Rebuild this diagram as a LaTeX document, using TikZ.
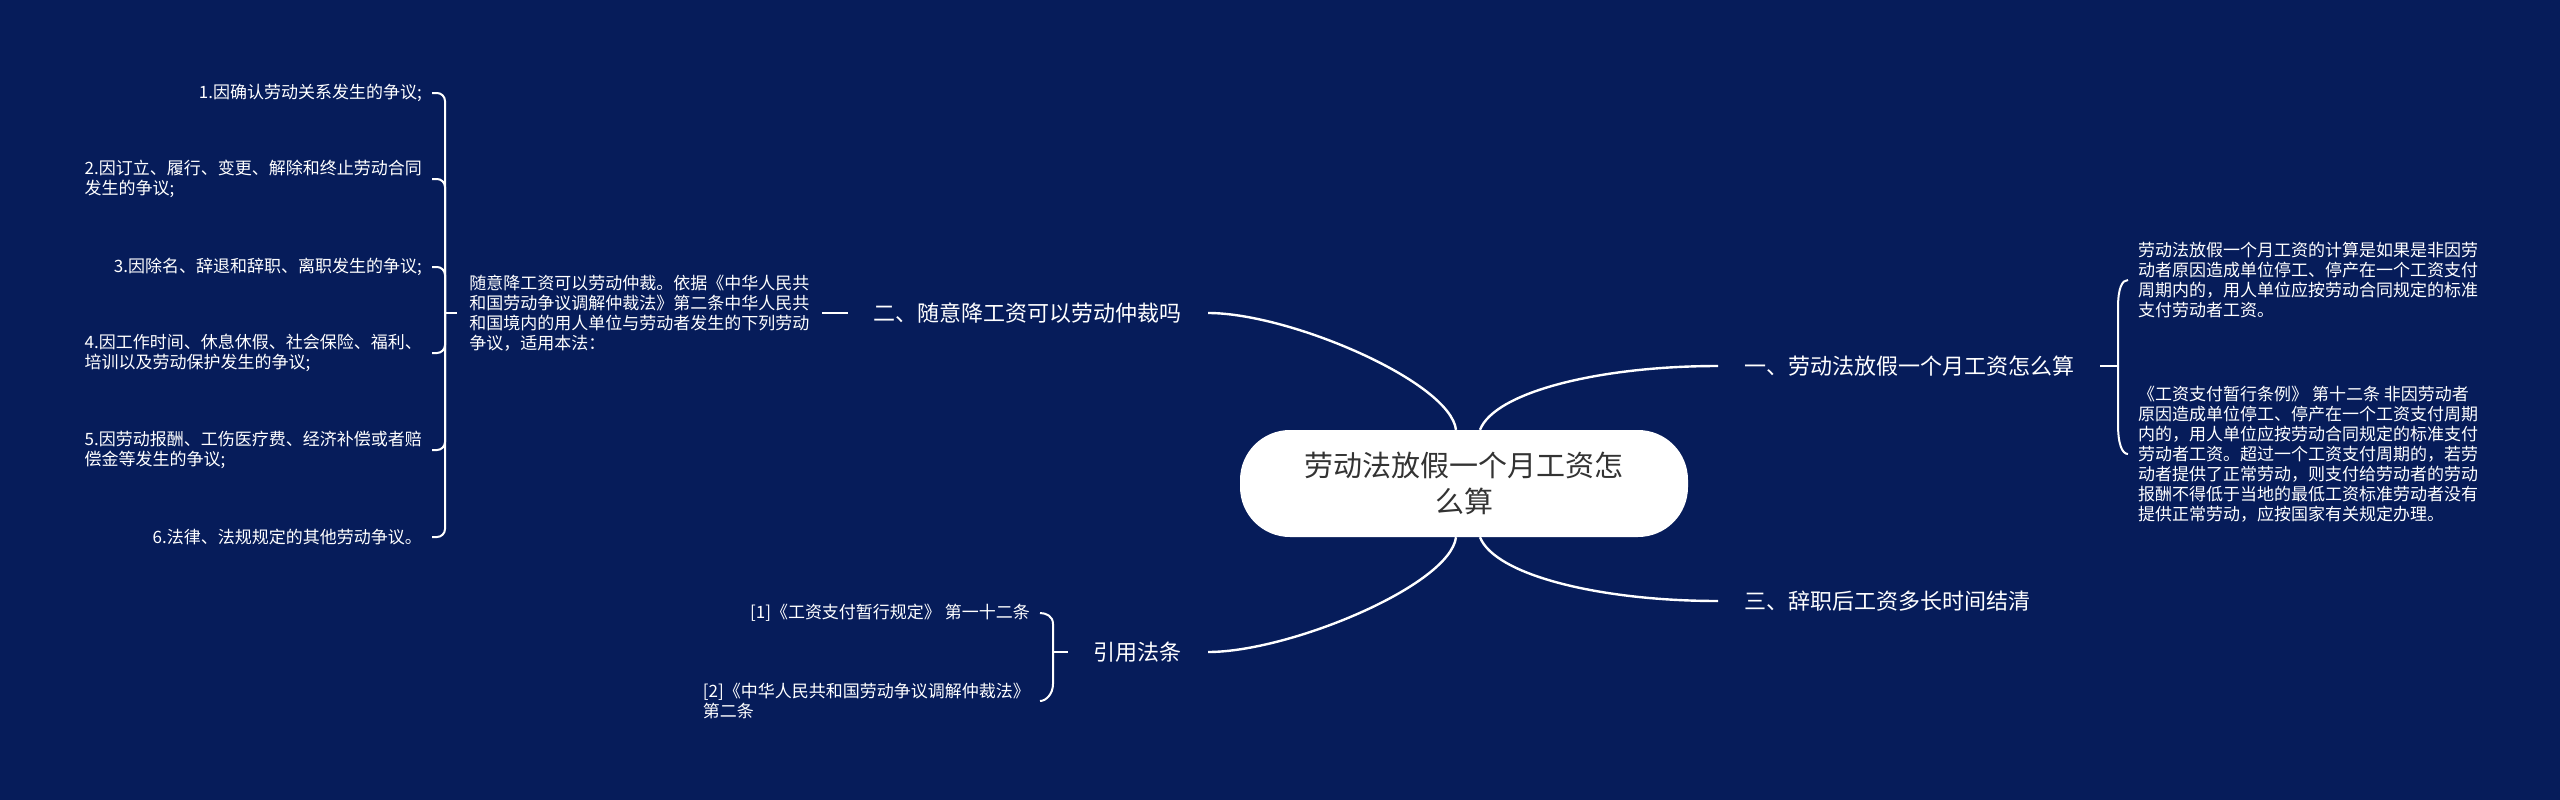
\documentclass[tikz,border=0pt]{standalone}
\usepackage{fontspec}
\setmainfont{Noto Sans CJK SC}
\usetikzlibrary{positioning}
\definecolor{mapbg}{RGB}{6,28,90}
\definecolor{roottext}{RGB}{51,51,51}
\newcommand\leaffont{\fontsize{17pt}{20pt}\selectfont}

\begin{document}
\begin{tikzpicture} [x = 1pt, y = -1pt,
  root/.style = {fill = white, text = roottext, rounded corners = 50pt, minimum width = 448pt, minimum height = 107pt, align = center, font = \fontsize{29pt}{36pt}\selectfont},
  topic/.style = {text = white, font = \fontsize{22pt}{26pt}\selectfont, inner xsep = 26pt, inner ysep = 6pt},
  leaf/.style = {text = white, font = \leaffont, align = left, inner xsep = 10pt, inner ysep = 2pt},
  branch/.style = {draw = white, line width = 2.4pt},
  brace/.style = {draw = white, line width = 2pt, rounded corners = 8pt}]
\fill [mapbg] (0,0) rectangle (2560,800);
\useasboundingbox (0,0) rectangle (2560,800);

\node [root] (root) at (1464,483.5) {劳动法放假一个月工资怎\\么算};

\node [topic, anchor = west] (t1) at (1718,366) {一、劳动法放假一个月工资怎么算};
\node [topic, anchor = east] (t2) at (1208,313) {二、随意降工资可以劳动仲裁吗};
\node [topic, anchor = west] (t3) at (1718,601) {三、辞职后工资多长时间结清};
\node [topic, anchor = east] (t4) at (1208,652) {引用法条};

\draw [branch] ([xshift = -8pt]root.north) .. controls +(-6,-48) and +(82,0) .. (t2.east);
\draw [branch] ([xshift = 16pt]root.north) .. controls +(15,-38) and +(-118,0) .. (t1.west);
\draw [branch] ([xshift = -8pt]root.south) .. controls +(-6,48) and +(82,0) .. (t4.east);
\draw [branch] ([xshift = 16pt]root.south) .. controls +(15,38) and +(-118,0) .. (t3.west);

% right: 一
\coordinate (rb) at (2118,366);
\node [leaf, anchor = west] (r1) at (2128,280) {劳动法放假一个月工资的计算是如果是非因劳\\动者原因造成单位停工、停产在一个工资支付\\周期内的，用人单位应按劳动合同规定的标准\\支付劳动者工资。};
\node [leaf, anchor = west] (r2) at (2128,454) {《工资支付暂行条例》 第十二条 非因劳动者\\原因造成单位停工、停产在一个工资支付周期\\内的，用人单位应按劳动合同规定的标准支付\\劳动者工资。超过一个工资支付周期的，若劳\\动者提供了正常劳动，则支付给劳动者的劳动\\报酬不得低于当地的最低工资标准劳动者没有\\提供正常劳动，应按国家有关规定办理。};
\draw [brace] (t1.east) -- (rb);
\draw [brace] (rb) -- ++(0,-50) .. controls +(0,-28) and +(-6,0) .. (r1.west);
\draw [brace] (rb) -- ++(0,50) .. controls +(0,28) and +(-6,0) .. (r2.west);

% left: 二
\node [leaf, anchor = east, inner xsep = 12pt] (lpar) at ([xshift = -26pt]t2.west) {随意降工资可以劳动仲裁。依据《中华人民共\\和国劳动争议调解仲裁法》第二条中华人民共\\和国境内的用人单位与劳动者发生的下列劳动\\争议，适用本法：};
\draw [branch, line width = 2pt] (t2.west) -- (lpar.east);
\coordinate (lb) at (445,313);
\node [leaf, anchor = east] (c1) at (432,93) {1.因确认劳动关系发生的争议;};
\node [leaf, anchor = east] (c2) at (432,179) {2.因订立、履行、变更、解除和终止劳动合同\\发生的争议;};
\node [leaf, anchor = east] (c3) at (432,267) {3.因除名、辞退和辞职、离职发生的争议;};
\node [leaf, anchor = east] (c4) at (432,353) {4.因工作时间、休息休假、社会保险、福利、\\培训以及劳动保护发生的争议;};
\node [leaf, anchor = east] (c5) at (432,450) {5.因劳动报酬、工伤医疗费、经济补偿或者赔\\偿金等发生的争议;};
\node [leaf, anchor = east] (c6) at (432,537) {6.法律、法规规定的其他劳动争议。};
\draw [brace] (lpar.west) -- (lb);
\draw [brace] (lb) |- (c1.east);
\draw [brace] (lb) |- (c2.east);
\draw [brace] (lb) |- (c3.east);
\draw [brace] (lb) |- (c4.east);
\draw [brace] (lb) |- (c5.east);
\draw [brace] (lb) |- (c6.east);

% bottom: 引用法条
\coordinate (bb) at (1053,652);
\node [leaf, anchor = east] (b1) at (1040,613) {[1]《工资支付暂行规定》 第一十二条};
\node [leaf, anchor = east] (b2) at (1040,701) {[2]《中华人民共和国劳动争议调解仲裁法》\\第二条};
\draw [brace] (t4.west) -- (bb);
\draw [brace] (bb) -- ++(0,-20) .. controls +(0,-16) and +(6,0) .. (b1.east);
\draw [brace] (bb) -- ++(0,24) .. controls +(0,18) and +(6,0) .. (b2.east);
\end{tikzpicture}
\end{document}
